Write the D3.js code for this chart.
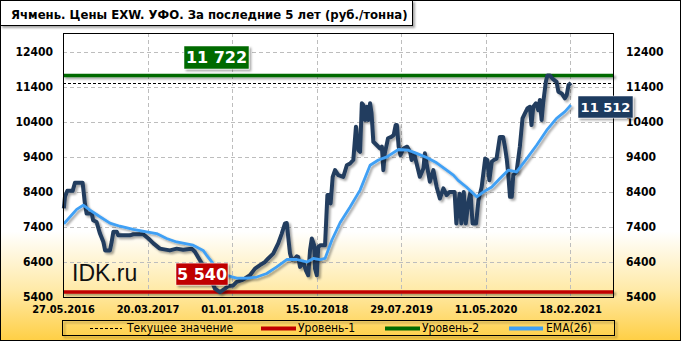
<!DOCTYPE html>
<html><head><meta charset="utf-8">
<script src="https://cdn.jsdelivr.net/npm/d3@7"></script>
<style>body{margin:0;background:#fff}svg{display:block}</style>
</head><body><svg id="c" width="681" height="341"></svg>
<script>
// ---------- DATA ----------
const title = "Ячмень. Цены EXW. УФО. За последние 5 лет (руб./тонна)";
const tickDates = ["27.05.2016","20.03.2017","01.01.2018","15.10.2018","29.07.2019","11.05.2020","18.02.2021"];
const yTicks = [5400,6400,7400,8400,9400,10400,11400,12400];
const priceDates = ["30.05.2016","03.06.2016","11.06.2016","30.06.2016","08.07.2016","04.08.2016","12.08.2016","18.08.2016","05.09.2016","10.09.2016","22.09.2016","04.10.2016","16.10.2016","22.10.2016","08.11.2016","14.11.2016","20.11.2016","02.12.2016","07.12.2016","17.01.2017","29.01.2017","05.03.2017",
"23.03.2017","09.04.2017","01.05.2017","04.06.2017","27.06.2017","19.07.2017","17.08.2017","28.08.2017","14.09.2017","18.10.2017","04.11.2017","21.11.2017","08.12.2017","19.12.2017",
"05.01.2018","17.01.2018","03.02.2018","14.02.2018","03.03.2018","20.03.2018","06.04.2018","23.04.2018","04.05.2018","21.05.2018","07.06.2018","19.06.2018","30.06.2018","06.07.2018","11.07.2018","17.07.2018","23.07.2018","03.08.2018","09.08.2018","14.08.2018","20.08.2018","31.08.2018","09.09.2018","17.09.2018","23.09.2018","29.09.2018","07.10.2018","10.10.2018","16.10.2018",
"21.10.2018","29.10.2018","13.11.2018","21.11.2018","27.11.2018","02.12.2018","09.12.2018","17.12.2018","28.12.2018","14.01.2019","26.01.2019","06.02.2019","17.02.2019","26.02.2019","06.03.2019","12.03.2019","18.03.2019","23.03.2019","29.03.2019","04.04.2019","09.04.2019","15.04.2019","20.04.2019","26.04.2019","08.05.2019","19.05.2019","25.05.2019","30.05.2019","04.06.2019","15.06.2019","26.06.2019","04.07.2019","11.07.2019","15.07.2019","21.07.2019","27.07.2019",
"06.08.2019","19.08.2019","29.08.2019","03.09.2019","11.09.2019","20.09.2019","01.10.2019","13.10.2019","18.10.2019","24.10.2019","04.11.2019","16.11.2019","27.11.2019","08.12.2019","20.12.2019","31.12.2019","10.01.2020","27.01.2020","02.02.2020","08.02.2020","13.02.2020","19.02.2020","27.02.2020","05.03.2020","13.03.2020","21.03.2020","28.03.2020","09.04.2020","17.04.2020","28.04.2020","10.05.2020",
"17.05.2020","24.05.2020","01.06.2020","08.06.2020","17.06.2020","28.06.2020","09.07.2020","15.07.2020","21.07.2020","26.07.2020","01.08.2020","07.08.2020","12.08.2020","23.08.2020","03.09.2020","12.09.2020","20.09.2020","28.09.2020","07.10.2020","12.10.2020","18.10.2020","27.10.2020","04.11.2020","09.11.2020","15.11.2020","20.11.2020","29.11.2020","04.12.2020","13.12.2020","24.12.2020","04.01.2021","10.01.2021","21.01.2021","01.02.2021","07.02.2021","13.02.2021","21.02.2021"];
const priceValues = [7930,8260,8430,8430,8660,8660,8070,7780,7780,7590,7540,7210,6970,6730,6730,6970,7260,7260,7160,7160,7190,7190,
7070,6930,6780,6730,6780,6750,6780,6690,6450,5970,5640,5540,5640,5710,
5730,5830,5880,5930,6020,6210,6310,6400,6500,6640,6930,7210,7500,7510,7110,6640,6470,6500,6560,6540,6260,6400,6160,6020,6730,7070,6880,6210,6020,
6830,6880,6880,8310,8310,8070,8830,9020,8880,8830,9160,9210,9310,10260,9590,9540,10930,10880,10450,10830,10450,10930,10640,9830,9730,9640,9690,9020,9500,9930,9970,10020,10310,10310,9690,9450,
9640,9690,9540,9310,9500,9210,8830,9070,9500,9210,8690,9020,8540,8210,8500,8310,8400,8400,7500,7980,8350,7500,8400,7500,8070,8400,7500,7500,8160,8540,9350,
9310,8730,9260,9310,9350,9970,9970,9690,9350,8930,8260,8260,8880,8970,9690,10500,10640,10780,10830,10310,10830,10930,10730,11020,10450,10930,11540,11722,11722,11610,11540,11260,11210,11070,11160,11450,11512];
const emaDates = ["30.05.2016","21.06.2016","14.07.2016","06.08.2016","30.08.2016","04.10.2016","08.11.2016","13.12.2016","29.01.2017","17.03.2017",
"20.04.2017","24.05.2017","27.06.2017","22.08.2017","25.09.2017","07.10.2017","29.10.2017","21.11.2017","14.12.2017",
"17.01.2018","20.02.2018","26.03.2018","29.04.2018","02.06.2018","06.07.2018","09.08.2018","12.09.2018","04.10.2018",
"27.10.2018","13.11.2018","06.12.2018","03.01.2019","06.02.2019","12.03.2019","15.04.2019","13.05.2019","11.06.2019","20.07.2019",
"23.08.2019","20.09.2019","24.10.2019","27.11.2019","31.12.2019","23.01.2020","08.02.2020","07.03.2020","11.04.2020","04.05.2020",
"01.06.2020","28.06.2020","26.07.2020","23.08.2020","26.09.2020","29.10.2020","02.12.2020","04.01.2021","01.02.2021","21.02.2021"];
const emaValues = [7490,7690,7900,8020,7880,7690,7510,7420,7330,7260,
7210,7070,6970,6880,6730,6590,6350,6160,6020,
5940,5940,5970,6070,6260,6470,6470,6400,6500,
6470,6500,7020,7520,7970,8450,9160,9310,9400,9610,
9590,9500,9380,9230,9020,8880,8730,8540,8260,8400,
8540,8780,9020,8970,9350,9730,10160,10500,10690,10880];
const currentValue = 11512;
const level1 = 5540;
const level2 = 11722;
const legendLabels = ["Текущее значение","Уровень-1","Уровень-2","EMA(26)"];
const watermark = "IDK.ru";

// ---------- LAYOUT ----------
const W = 681, H = 341;
const P = {left:63, right:614, top:33, bottom:297};
const tickStep = 84.5;
const C = {price:"#233d5e", ema:"#3fa0f5", l1:"#c00000", l2:"#006a00", grid:"#bdbdbd"};
const F = "'DejaVu Sans Condensed','DejaVu Sans',sans-serif";

const parse = d3.timeParse("%d.%m.%Y");
const svg = d3.select("#c");
const defs = svg.append("defs");
const grad = defs.append("linearGradient").attr("id","bg").attr("x1",0).attr("y1",0).attr("x2",0).attr("y2",1);
[[0,"#ffffff"],[0.68,"#ffffff"],[0.85,"#ffeaa8"],[1,"#ffcf45"]].forEach(s=>grad.append("stop").attr("offset",s[0]).attr("stop-color",s[1]));
const sh = defs.append("filter").attr("id","sh").attr("filterUnits","userSpaceOnUse").attr("x",0).attr("y",0).attr("width",W).attr("height",H);
sh.append("feDropShadow").attr("dx",2).attr("dy",2).attr("stdDeviation",1.2).attr("flood-color","#000").attr("flood-opacity",0.35);

svg.append("rect").attr("x",0.5).attr("y",0.5).attr("width",W-1).attr("height",H-1).attr("fill","url(#bg)").attr("stroke","#000");

const x = d3.scaleTime().domain(tickDates.map(parse)).range(tickDates.map((d,i)=>P.left+i*tickStep));
const y = d3.scaleLinear().domain([5400,12935]).range([P.bottom,P.top]);

// gridlines
const g = svg.append("g");
g.selectAll(".hg").data(yTicks).join("line").attr("x1",P.left).attr("x2",P.right)
  .attr("y1",d=>Math.round(y(d))+0.5).attr("y2",d=>Math.round(y(d))+0.5)
  .attr("stroke",C.grid).attr("stroke-dasharray","4,3");
g.selectAll(".vg").data(tickDates.slice(1)).join("line").attr("y1",P.top).attr("y2",P.bottom)
  .attr("x1",d=>Math.round(x(parse(d)))+0.5).attr("x2",d=>Math.round(x(parse(d)))+0.5)
  .attr("stroke",C.grid).attr("stroke-dasharray","4,3");

// axes
const yL = d3.axisLeft(y).tickValues(yTicks).tickFormat(d3.format("d")).tickSize(0).tickPadding(10);
const yR = d3.axisRight(y).tickValues(yTicks).tickFormat(d3.format("d")).tickSize(0).tickPadding(12);
const xA = d3.axisBottom(x).tickValues(tickDates.map(parse)).tickFormat(d3.timeFormat("%d.%m.%Y")).tickSize(0).tickPadding(8);
function style(sel){sel.select(".domain").remove();sel.selectAll("text").attr("font-family",F).attr("font-weight","bold").attr("fill","#000");}
svg.append("g").attr("transform",`translate(${P.left},0)`).call(yL).call(style).selectAll("text").attr("font-size",12);
svg.append("g").attr("transform",`translate(${P.right},0)`).call(yR).call(style).selectAll("text").attr("font-size",12);
svg.append("g").attr("transform",`translate(0,${P.bottom})`).call(xA).call(style).selectAll("text").attr("font-size",11);

// watermark
svg.append("text").attr("x",72).attr("y",281).attr("font-family","'Liberation Sans',Arial,sans-serif").attr("font-size",23).attr("fill","#111").text(watermark);

// level lines
const lv = svg.append("g").attr("filter","url(#sh)");
lv.append("line").attr("x1",P.left).attr("x2",P.right).attr("y1",y(level2)).attr("y2",y(level2)).attr("stroke",C.l2).attr("stroke-width",3.5);
lv.append("line").attr("x1",P.left).attr("x2",P.right).attr("y1",y(level1)).attr("y2",y(level1)).attr("stroke",C.l1).attr("stroke-width",3.5);
svg.append("line").attr("x1",P.left).attr("x2",P.right).attr("y1",Math.round(y(currentValue))+0.5).attr("y2",Math.round(y(currentValue))+0.5)
  .attr("stroke","#000").attr("stroke-dasharray","3,2");

// series
const price = priceDates.map((d,i)=>({d:parse(d),v:priceValues[i]}));
const ema = emaDates.map((d,i)=>({d:parse(d),v:emaValues[i]}));
const line = d3.line().x(p=>x(p.d)).y(p=>y(p.v));
svg.append("path").datum(price).attr("d",line).attr("fill","none").attr("stroke",C.price).attr("stroke-width",4).attr("stroke-linejoin","round").attr("filter","url(#sh)");
svg.append("path").datum(ema).attr("d",line).attr("fill","none").attr("stroke",C.ema).attr("stroke-width",2.8).attr("stroke-linejoin","round").attr("filter","url(#sh)");

// frame
svg.append("rect").attr("x",P.left+0.5).attr("y",P.top+0.5).attr("width",P.right-P.left-1).attr("height",P.bottom-P.top).attr("fill","none").attr("stroke","#000");

// value labels
function label(cx, cy, w, h, fill, txt, fs){
  const gg = svg.append("g");
  gg.append("rect").attr("x",cx-w/2).attr("y",cy-h/2).attr("width",w).attr("height",h).attr("fill",fill).attr("stroke","#fff").attr("stroke-width",0.5).attr("filter","url(#sh)");
  gg.append("text").attr("x",cx).attr("y",cy).attr("dy","0.36em").attr("text-anchor","middle").attr("font-family","'DejaVu Sans',sans-serif").attr("font-weight","bold").attr("font-size",fs).attr("fill","#fff").text(txt);
}
const fmt = v=>d3.format(",")(v).replace(/,/g," ");
label(216.5, y(level2)-18, 65, 23, C.l2, fmt(level2), 16);
label(202, y(level1)-18, 52, 22, C.l1, fmt(level1), 16);
label(605.5, y(emaValues[emaValues.length-1])+2, 55, 22, "#1d3a5f", fmt(currentValue), 13);

// title
svg.append("rect").attr("x",0.5).attr("y",0.5).attr("width",412).attr("height",25).attr("fill","#fff").attr("stroke","#000").attr("filter","url(#sh)");
const tt = svg.append("text").attr("x",11).attr("y",19).attr("font-family",F).attr("font-weight","bold").attr("font-size",13).attr("fill","#000").text(title);
const tw = tt.node().getComputedTextLength();
tt.attr("font-size",13*397/tw);

// legend
const lg = svg.append("g");
lg.append("rect").attr("x",62.5).attr("y",320.5).attr("width",552).attr("height",15).attr("fill","none").attr("stroke","#000").attr("filter","url(#sh)");
const items = [
  {x1:90,x2:122,tx:127,c:"#000",w:1,dash:"3,2"},
  {x1:261,x2:296,tx:298,c:C.l1,w:4,dash:null},
  {x1:385,x2:420,tx:422,c:C.l2,w:4,dash:null},
  {x1:509,x2:543,tx:546,c:C.ema,w:4,dash:null}];
items.forEach((it,i)=>{
  lg.append("line").attr("x1",it.x1).attr("x2",it.x2).attr("y1",328.5).attr("y2",328.5).attr("stroke",it.c).attr("stroke-width",it.w).attr("stroke-dasharray",it.dash);
  lg.append("text").attr("x",it.tx).attr("y",328).attr("dy","0.36em").attr("font-family",F).attr("font-size",12).attr("fill","#000").text(legendLabels[i]);
});
</script></body></html>
